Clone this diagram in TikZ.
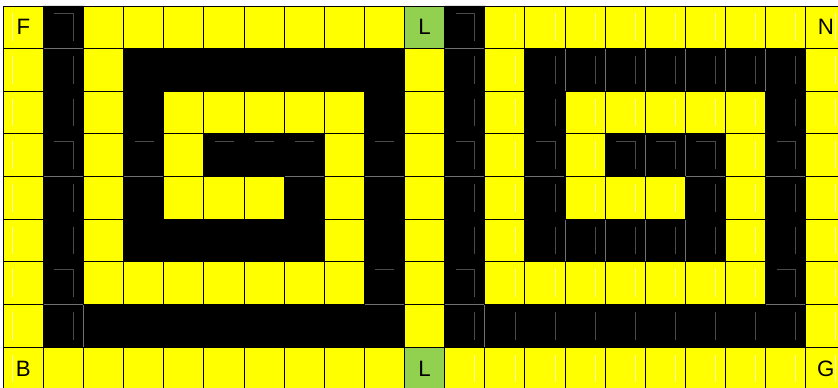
\documentclass[tikz,border=0pt]{standalone}
\usepackage{fontspec}
\setmainfont{Liberation Sans}
\definecolor{cellyellow}{HTML}{FFFF00}
\definecolor{cellgreen}{HTML}{92D050}
\definecolor{seamgray}{HTML}{707070}
\definecolor{ghostgray}{HTML}{4A4A4A}
\definecolor{ghostyellow}{HTML}{FFFFA0}
\tikzset{
  gridline/.style={line width=0.8pt, draw=black},
  seam/.style={line width=0.8pt, draw=seamgray},
  ghost/.style={line width=0.45pt, draw=ghostgray},
  ghosty/.style={line width=0.45pt, draw=ghostyellow},
  celltext/.style={font=\fontsize{19}{21}\selectfont, text=black, inner sep=0pt, anchor=center}
}
\begin{document}
\begin{tikzpicture}[x=0.03cm,y=0.03cm]
\useasboundingbox (0,0) rectangle (838,387);
\fill[white] (0,0) rectangle (838,387);
\clip (0,0) rectangle (838,387);
\begin{scope}[shift={(0.099cm,11.43cm)}, x=1.2036cm, y=-1.2798cm]
  % 1. yellow background
  \fill[cellyellow] (0,0) rectangle (21,9);
  % 2. faint yellow artifacts
  \foreach \r in {0,...,8}{
    \draw[ghosty] (0.224,\r+0.176) -- (0.224,\r+0.82);
    \foreach \c in {11,...,20}
      \draw[ghosty] (\c+0.748,\r+0.176) -- (\c+0.748,\r+0.82);
  }
  % 3. black spirals
  \foreach \h in {0,10}{
    \fill[black]
      (\h+1,0) rectangle (\h+2,8)
      (\h+9,1) rectangle (\h+10,8)
      (\h+3,1) rectangle (\h+10,2)
      (\h+1,7) rectangle (\h+10,8)
      (\h+3,1) rectangle (\h+4,6)
      (\h+3,5) rectangle (\h+8,6)
      (\h+7,3) rectangle (\h+8,6)
      (\h+5,3) rectangle (\h+8,4);
  }
  % green cells
  \fill[cellgreen] (10,0) rectangle (11,1);
  \fill[cellgreen] (10,8) rectangle (11,9);
  % 4. faint grey artifacts in black cells
  \foreach \c in {1,11}
    \foreach \r in {0,...,7}
      \draw[ghost] (\c+0.748,\r+0.176) -- (\c+0.748,\r+0.82);
  \foreach \r/\cols in {1/{13,...,19}, 2/{13,19}, 3/{13,15,16,17,19}, 4/{13,17,19},
                        5/{13,14,15,16,17,19}, 6/{19}, 7/{12,...,19}}
    \foreach \c in \cols
      \draw[ghost] (\c+0.748,\r+0.176) -- (\c+0.748,\r+0.82);
  \foreach \r/\cols in {0/{1,11}, 3/{1,3,5,6,7,9,11,13,15,16,17,19}, 6/{1,9,11,19}}
    \foreach \c in \cols
      \draw[ghost] (\c+0.274,\r+0.176) -- (\c+0.748,\r+0.176);
  % 5. grid lines
  \foreach \c in {0,...,21}
    \draw[gridline] (\c,0) -- (\c,9);
  \foreach \r in {0,...,9}
    \draw[gridline] (0,\r) -- (21,\r);
  % 6. grey seams between black cells
  \foreach \r/\cols in {1/{1,11}, 4/{1,3,7,9,11,13,17,19}, 7/{1,9,11,19}}
    \foreach \c in \cols
      \draw[seam] (\c+0.015,\r) -- (\c+0.985,\r);
  \foreach \r/\cols in {1/{14,...,19}, 3/{16,17}, 5/{14,15,16,17}, 7/{2,12,...,19}}
    \foreach \c in \cols
      \draw[seam] (\c,\r+0.015) -- (\c,\r+0.985);
  % 7. labels
  \node[celltext] (F) at (0.5,0.5) {F};
  \node[celltext] (Ltop) at (10.5,0.5) {L};
  \node[celltext] (N) at (20.5,0.5) {N};
  \node[celltext] (B) at (0.5,8.5) {B};
  \node[celltext] (Lbot) at (10.5,8.5) {L};
  \node[celltext] (G) at (20.5,8.5) {G};
\end{scope}
\end{tikzpicture}
\end{document}
